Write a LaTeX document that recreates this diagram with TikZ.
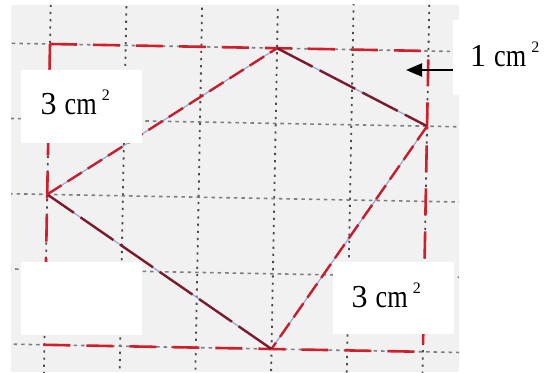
\documentclass[tikz,border=0pt]{standalone}
\usepackage{fontspec}
\setmainfont{Liberation Serif}
\usepackage{graphicx}
\usetikzlibrary{arrows.meta}
\definecolor{paper}{HTML}{F1F1F1}
\definecolor{gridv}{HTML}{4A4A4A}
\definecolor{gridh}{HTML}{7E7E7E}
\definecolor{rectred}{HTML}{D21E2A}
\definecolor{edgered}{HTML}{C41E2E}
\definecolor{edgedark}{HTML}{7A1A2C}
\definecolor{edgeblue}{HTML}{92A8D8}
\newcommand{\areatxt}[1]{{\fontsize{32}{32}\selectfont #1\hspace{8pt}\scalebox{0.82}[1]{cm}\hspace{5pt}\raisebox{14pt}{\fontsize{16}{16}\selectfont 2}}}
\begin{document}
\begin{tikzpicture}[x=1pt,y=1pt,
  vgrid/.style={draw=gridv,line width=1.8pt,dash pattern=on 2.2pt off 5pt},
  hgrid/.style={draw=gridh,line width=1.6pt,dash pattern=on 3.5pt off 4pt},
  redrect/.style={draw=rectred,line width=2.6pt,dash pattern=on 27pt off 16pt},
  bluebase/.style={draw=edgeblue,line width=1.2pt},
  rededge/.style={draw=edgered,line width=2.4pt,dash pattern=on 17pt off 7pt},
  darkedge/.style={draw=edgedark,line width=2.4pt,dash pattern=on 40pt off 8pt},
  whitebox/.style={fill=white,draw=none,inner sep=0pt,anchor=south west},
  lbl/.style={inner sep=0pt,anchor=base west},
  pointer/.style={draw=black,line width=2pt,-{Triangle[length=16pt,width=13pt]}}]
\useasboundingbox (0,0) rectangle (545,372);
\fill[white] (0,0) rectangle (545,372);
\fill[paper] (11,0) rectangle (459,367);
\begin{scope}
  \clip (11,0) rectangle (459,367);
  \begin{scope}[shift={(50,328)},x={(75.69pt,-1.40pt)},y={(-1.39pt,-75.2pt)}]
    \foreach \u in {0,...,5} \draw[vgrid] (\u,-1) -- (\u,5.5);
    \foreach \v in {0,...,4} \draw[hgrid] (-1,\v) -- (7,\v);
    \coordinate (R1) at (0,0);
    \coordinate (R2) at (5,0);
    \coordinate (R3) at (5,4);
    \coordinate (R4) at (0,4);
    \coordinate (A) at (3,0);
    \coordinate (B) at (5,1);
    \coordinate (C) at (3,4);
    \coordinate (D) at (0,2);
  \end{scope}
\end{scope}
% dashed bounding rectangle
\draw[redrect] (R1) -- (R2) -- (R3) -- (R4) -- cycle;
% quadrilateral
\draw[bluebase] (A) -- (B) -- (C) -- (D) -- cycle;
\draw[darkedge] (A) -- (B);
\draw[rededge] (B) -- (C);
\draw[darkedge] (C) -- (D);
\draw[rededge] (D) -- (A);
% white label boxes
\node[whitebox,minimum width=121pt,minimum height=73pt] (box1) at (21,229) {};
\node[whitebox,minimum width=121pt,minimum height=73pt] (box2) at (21,37) {};
\node[whitebox,minimum width=121pt,minimum height=72pt] (box3) at (333,38) {};
\node[whitebox,minimum width=92pt,minimum height=75pt] (box4) at (453,277) {};
% labels
\node[lbl] (lab1) at (40.5,257) {\areatxt{3}};
\node[lbl] (lab3) at (351.5,65) {\areatxt{3}};
\node[lbl] (lab4) at (470,305) {\areatxt{1}};
% arrow
\coordinate (arrS) at (453,302);
\coordinate (arrE) at (406,302);
\draw[pointer] (arrS) -- (arrE);
\end{tikzpicture}
\end{document}
